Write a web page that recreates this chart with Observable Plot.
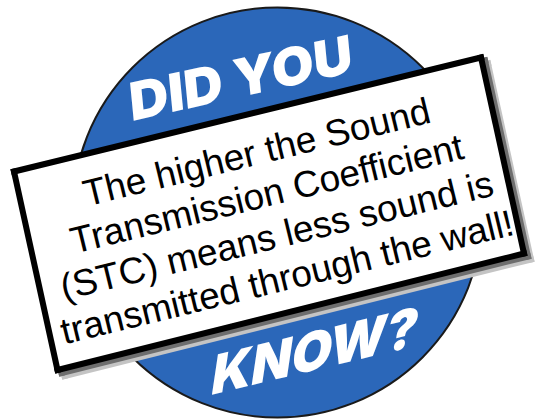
<!DOCTYPE html>
<html><head><meta charset="utf-8">
<script src="https://cdn.jsdelivr.net/npm/d3@7"></script>
<script src="https://cdn.jsdelivr.net/npm/@observablehq/plot@0.6"></script>
<style>html,body{margin:0;padding:0;background:#fff;overflow:hidden}</style>
</head><body><div id="chart"></div>
<script>
// Badge (blue disc)
const badgeX = [277];
const badgeY = [212];
const badgeR = [205];
// Words on the badge
const words = ["DID YOU", "KNOW?"];
const wordX = [242, 312];
const wordY = [96, 370];
const wordAngle = [-12.5, -13.5];
const wordLength = [228, 212];
const wordSkew = [-7, -22];
// Sign (corner points, closed)
const signX = [13.5, 480.5, 523.5, 57, 13.5];
const signY = [171, 57, 253, 369.5, 171];
// Shadow offsets of the sign (outer soft, inner dark)
const shadowDX = [7, 4];
const shadowDY = [6, 3];
const shadowColor = ["#c4c4c4", "#6e6e6e"];
// Message on the sign
const messageLines = [
  "The higher the Sound",
  "Transmission Coefficient",
  "(STC) means less sound is",
  "transmitted through the wall!"
];
const messageX = [271];
const messageY = [213];
const messageAngle = -13.7;

const badge = badgeX.map((x, i) => ({x, y: badgeY[i], r: badgeR[i]}));
const wordData = words.map((t, i) => ({t, x: wordX[i], y: wordY[i], a: wordAngle[i]}));
const edges = (dx, dy) => signX.slice(0, -1).map((x, i) => ({
  x1: x + dx, y1: signY[i] + dy, x2: signX[i + 1] + dx, y2: signY[i + 1] + dy
}));
const message = [{t: messageLines.join("\n"), x: messageX[0], y: messageY[0]}];

const plot = Plot.plot({
  width: 537, height: 420, margin: 0,
  style: {background: "#fff"},
  x: {domain: [0, 537], range: [0, 537], axis: null},
  y: {domain: [0, 420], range: [0, 420], axis: null},
  r: {type: "identity"},
  marks: [
    Plot.dot(badge, {x: "x", y: "y", r: "r", fill: "#2b67b9", stroke: "#1a1a1a", strokeWidth: 2}),
    Plot.text(wordData, {x: "x", y: "y", text: "t", rotate: "a", fill: "white",
      fontSize: 52, fontWeight: 900, fontFamily: "Inter, Roboto, 'DejaVu Sans'",
      lineAnchor: "bottom", textAnchor: "middle"}),
    Plot.link(edges(shadowDX[0], shadowDY[0]), {x1: "x1", y1: "y1", x2: "x2", y2: "y2",
      stroke: shadowColor[0], strokeWidth: 6, strokeLinecap: "square"}),
    Plot.link(edges(shadowDX[1], shadowDY[1]), {x1: "x1", y1: "y1", x2: "x2", y2: "y2",
      stroke: shadowColor[1], strokeWidth: 6, strokeLinecap: "square"}),
    Plot.link(edges(0, 0), {x1: "x1", y1: "y1", x2: "x2", y2: "y2",
      stroke: "black", strokeWidth: 6, strokeLinecap: "square"}),
    Plot.text(message, {x: "x", y: "y", text: "t", rotate: messageAngle, fill: "black",
      fontSize: 37, lineHeight: 1.16, fontFamily: "'Liberation Sans', Arial, sans-serif",
      textAnchor: "middle", lineAnchor: "middle"})
  ]
});
document.getElementById("chart").appendChild(plot);

// Fit word widths and add slant
const textGroups = plot.querySelectorAll('g[aria-label="text"]');
textGroups[0].querySelectorAll("text").forEach((el, i) => {
  el.setAttribute("textLength", wordLength[i]);
  el.setAttribute("lengthAdjust", "spacingAndGlyphs");
  const tr = el.getAttribute("transform") || "";
  el.setAttribute("transform", tr + ` skewX(${wordSkew[i]})`);
});
// Fill each outline (built from the scaled link ends) so the sign is a solid card
const fills = [shadowColor[0], shadowColor[1], "white"];
plot.querySelectorAll('g[aria-label="link"]').forEach((g, k) => {
  const pts = [];
  g.querySelectorAll("path").forEach(p => {
    const n = (p.getAttribute("d").match(/-?\d+(\.\d+)?(e-?\d+)?/g) || []).map(Number);
    if (n.length >= 2) pts.push([n[0], n[1]]);
  });
  if (pts.length < 3) return;
  const poly = document.createElementNS("http://www.w3.org/2000/svg", "path");
  poly.setAttribute("d", "M" + pts.map(p => p.join(",")).join("L") + "Z");
  poly.setAttribute("fill", fills[k]);
  poly.setAttribute("stroke", "none");
  g.insertBefore(poly, g.firstChild);
});
</script>
</body></html>
